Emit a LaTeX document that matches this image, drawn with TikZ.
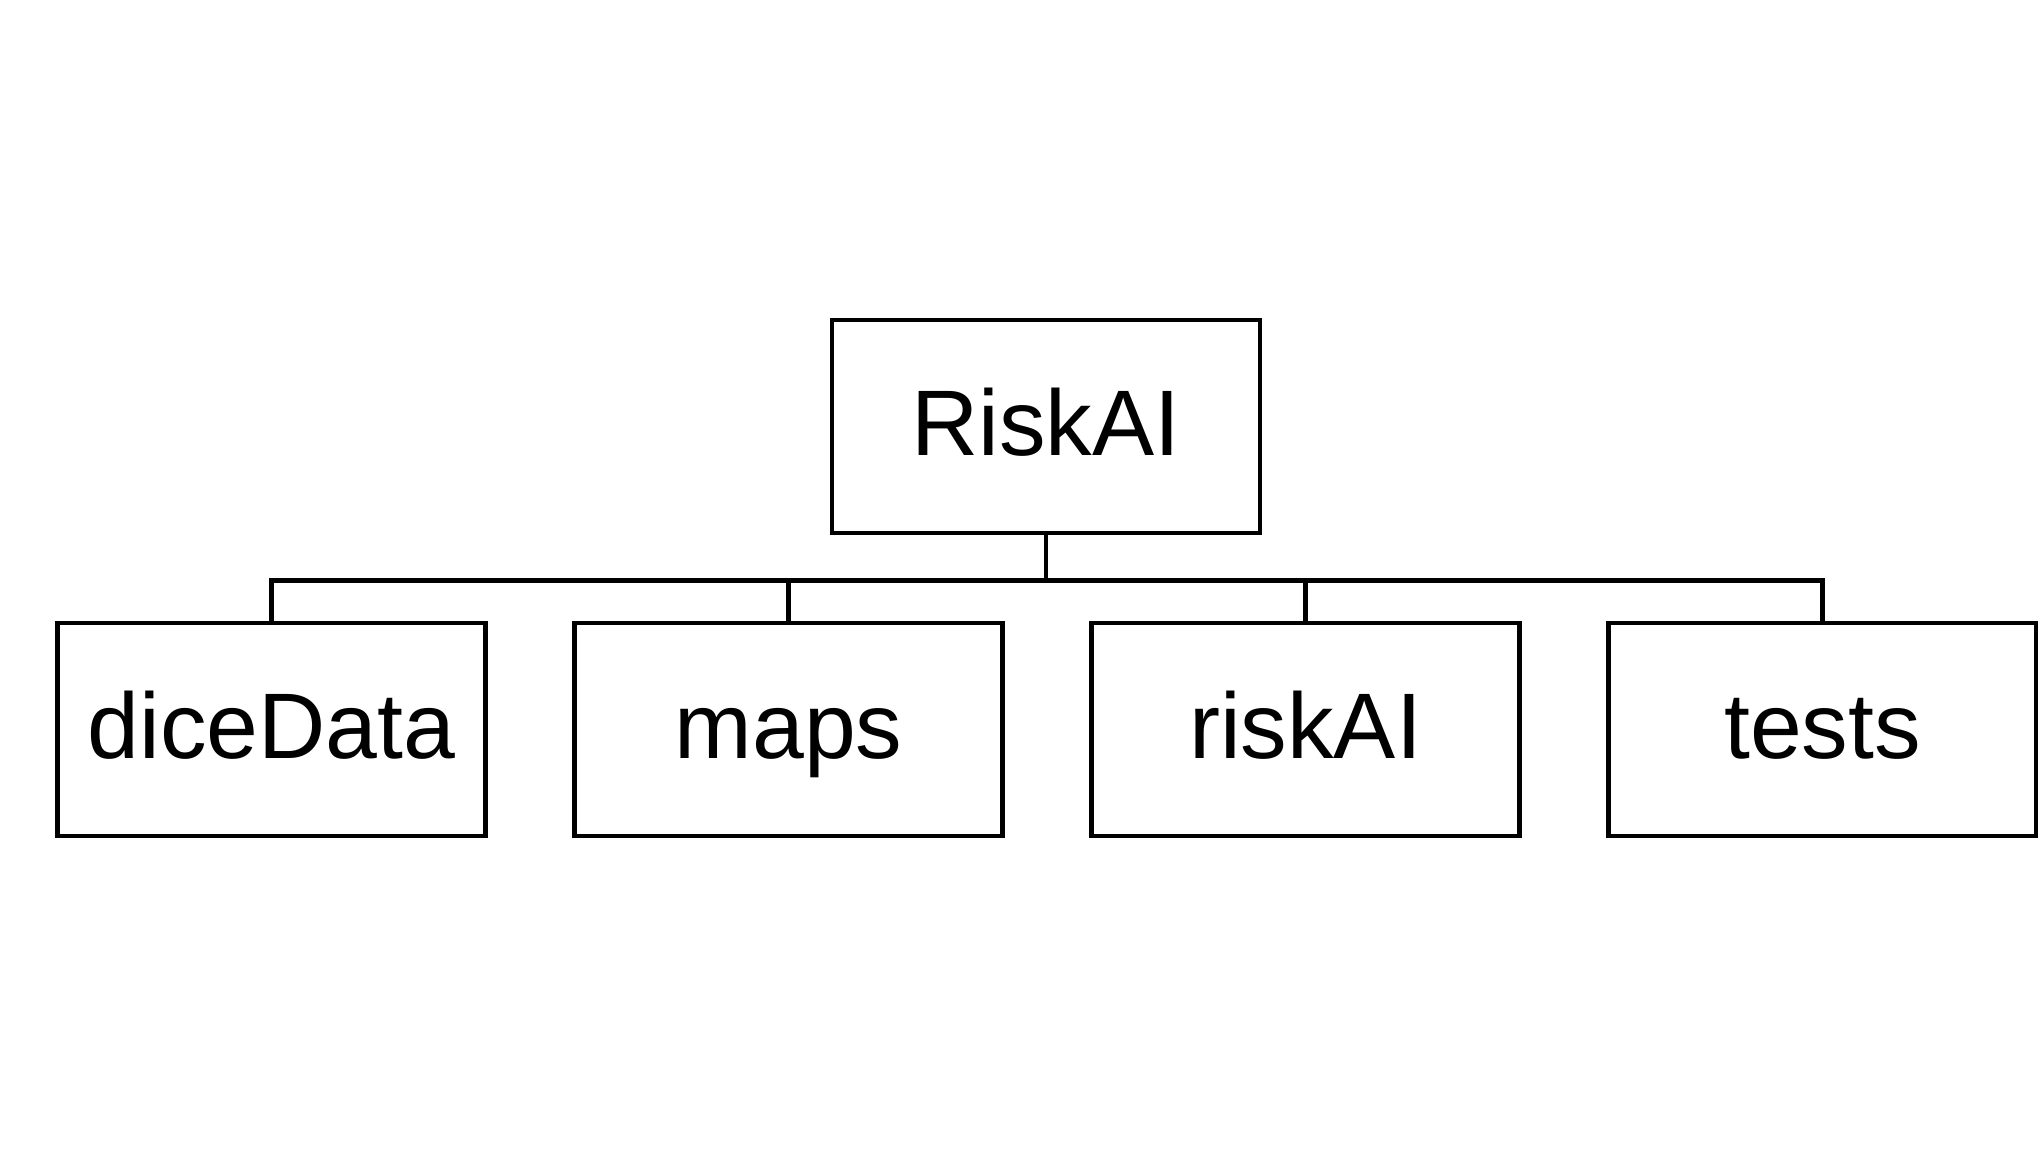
\documentclass[tikz,border=0pt]{standalone}
\usepackage{fontspec}
\setmainfont{Liberation Sans}
\usepackage{tikz}
\usetikzlibrary{positioning}

\begin{document}
\begin{tikzpicture}[
    node distance=1.69cm,
    box/.style={rectangle, draw, line width=0.09cm, minimum width=8.56cm, minimum height=4.26cm,
        align=center, text height=1.38cm, text depth=0.24cm, font=\fontsize{53}{60}\selectfont},
    link/.style={line width=0.09cm}
]
    \useasboundingbox (0,0) rectangle (40.76,-23.1);

    % Nodes
    \node[box] (root) at (20.92,-8.53) {RiskAI};
    \node[box] (dice) at (5.43,-14.59) {diceData};
    \node[box, right=of dice] (maps) {maps};
    \node[box, right=of maps] (risk) {riskAI};
    \node[box, right=of risk] (tests) {tests};

    % Links
    \draw[link] (root.south) -- ++(0,-0.9) -| (dice.north);
    \draw[link] (root.south) -- ++(0,-0.9) -| (maps.north);
    \draw[link] (root.south) -- ++(0,-0.9) -| (risk.north);
    \draw[link] (root.south) -- ++(0,-0.9) -| (tests.north);
\end{tikzpicture}
\end{document}
